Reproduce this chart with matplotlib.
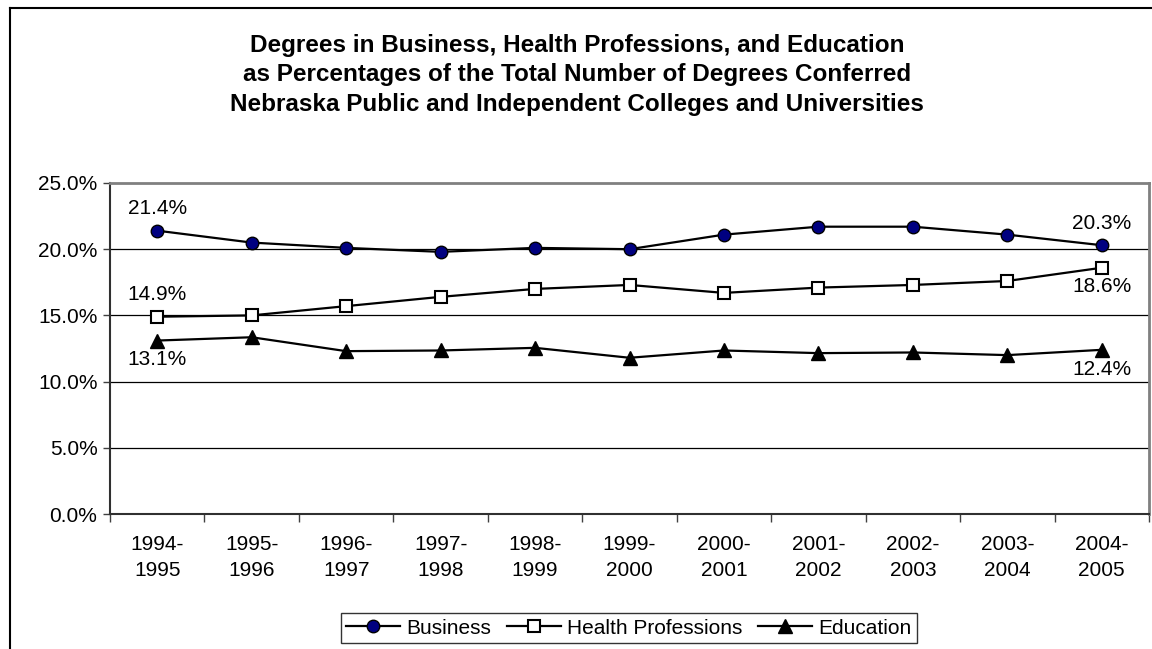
import matplotlib
matplotlib.use("Agg")
import matplotlib.pyplot as plt
from matplotlib.lines import Line2D
from matplotlib.ticker import FuncFormatter, FixedLocator

plt.rcParams["font.family"] = ["Liberation Sans", "DejaVu Sans"]

years = ["1994-\n1995", "1995-\n1996", "1996-\n1997", "1997-\n1998", "1998-\n1999",
         "1999-\n2000", "2000-\n2001", "2001-\n2002", "2002-\n2003", "2003-\n2004",
         "2004-\n2005"]
business = [21.4, 20.5, 20.1, 19.8, 20.1, 20.0, 21.1, 21.7, 21.7, 21.1, 20.3]
health = [14.9, 15.0, 15.7, 16.4, 17.0, 17.3, 16.7, 17.1, 17.3, 17.6, 18.6]
education = [13.1, 13.35, 12.3, 12.35, 12.55, 11.8, 12.35, 12.15, 12.2, 12.0, 12.4]

W, H = 1152, 649
fig = plt.figure(figsize=(W / 100, H / 100), dpi=100)
fig.patch.set_facecolor("white")

# outer chart border (runs off the right and bottom edges)
fig.add_artist(Line2D([10 / W, 10 / W], [0, 1 - 8 / H], color="black", lw=1.5))
fig.add_artist(Line2D([10 / W, 1], [1 - 8 / H, 1 - 8 / H], color="black", lw=1.5))

ax = fig.add_axes([110 / W, 1 - 514 / H, (1149 - 110) / W, (514 - 183) / H])
x = list(range(len(years)))

ax.plot(x, business, color="black", lw=1.6, marker="o", ms=9,
        mfc="#000080", mec="black", mew=1, label="Business", zorder=3)
ax.plot(x, health, color="black", lw=1.6, marker="s", ms=8,
        mfc="white", mec="black", mew=1.5, label="Health Professions", zorder=3)
ax.plot(x, education, color="black", lw=1.6, marker="^", ms=10,
        mfc="black", mec="black", label="Education", zorder=3)

ax.set_xlim(-0.5, len(years) - 0.5)
ax.set_ylim(0, 25)
ax.set_yticks([0, 5, 10, 15, 20, 25])
ax.yaxis.set_major_formatter(FuncFormatter(lambda v, p: f"{v:.1f}%"))
ax.set_xticks(x)
ax.set_xticklabels(years, linespacing=1.45)
ax.xaxis.set_minor_locator(FixedLocator([i - 0.5 for i in range(len(years) + 1)]))
ax.tick_params(axis="x", which="major", length=0, pad=15, labelsize=15)
ax.tick_params(axis="x", which="minor", length=6, width=1, color="#404040")
ax.tick_params(axis="y", length=5, width=1, color="#404040", labelsize=15, pad=4)

for yv in [5, 10, 15, 20]:
    ax.axhline(yv, color="black", lw=0.9, zorder=1)

ax.spines["top"].set_color("#808080")
ax.spines["right"].set_color("#808080")
ax.spines["top"].set_linewidth(2)
ax.spines["right"].set_linewidth(2)
ax.spines["left"].set_color("#303030")
ax.spines["bottom"].set_color("#303030")
ax.spines["left"].set_linewidth(1.5)
ax.spines["bottom"].set_linewidth(1.5)

# data labels at the first and last points
lab = dict(fontsize=15, ha="center")
ax.annotate(f"{business[0]:.1f}%", (0, business[0]), xytext=(0, 9), textcoords="offset points", va="bottom", **lab)
ax.annotate(f"{health[0]:.1f}%", (0, health[0]), xytext=(0, 9), textcoords="offset points", va="bottom", **lab)
ax.annotate(f"{education[0]:.1f}%", (0, education[0]), xytext=(0, -7), textcoords="offset points", va="top", **lab)
n = len(years) - 1
ax.annotate(f"{business[n]:.1f}%", (n, business[n]), xytext=(0, 9), textcoords="offset points", va="bottom", **lab)
ax.annotate(f"{health[n]:.1f}%", (n, health[n]), xytext=(0, -7), textcoords="offset points", va="top", **lab)
ax.annotate(f"{education[n]:.1f}%", (n, education[n]), xytext=(0, -7), textcoords="offset points", va="top", **lab)

fig.text(577 / W, 1 - 75 / H,
         "Degrees in Business, Health Professions, and Education\n"
         "as Percentages of the Total Number of Degrees Conferred\n"
         "Nebraska Public and Independent Colleges and Universities",
         ha="center", va="center", fontsize=17.5, fontweight="bold", linespacing=1.36)

leg = fig.legend(loc="center", bbox_to_anchor=(629 / W, 1 - 628 / H), ncol=3,
                 fontsize=15, frameon=True, fancybox=False, edgecolor="black",
                 handlelength=2.6, handletextpad=0.3, columnspacing=0.75,
                 borderpad=0.25, borderaxespad=0)
leg.get_frame().set_linewidth(1)

fig.savefig("out.png", dpi=100, facecolor="white")
